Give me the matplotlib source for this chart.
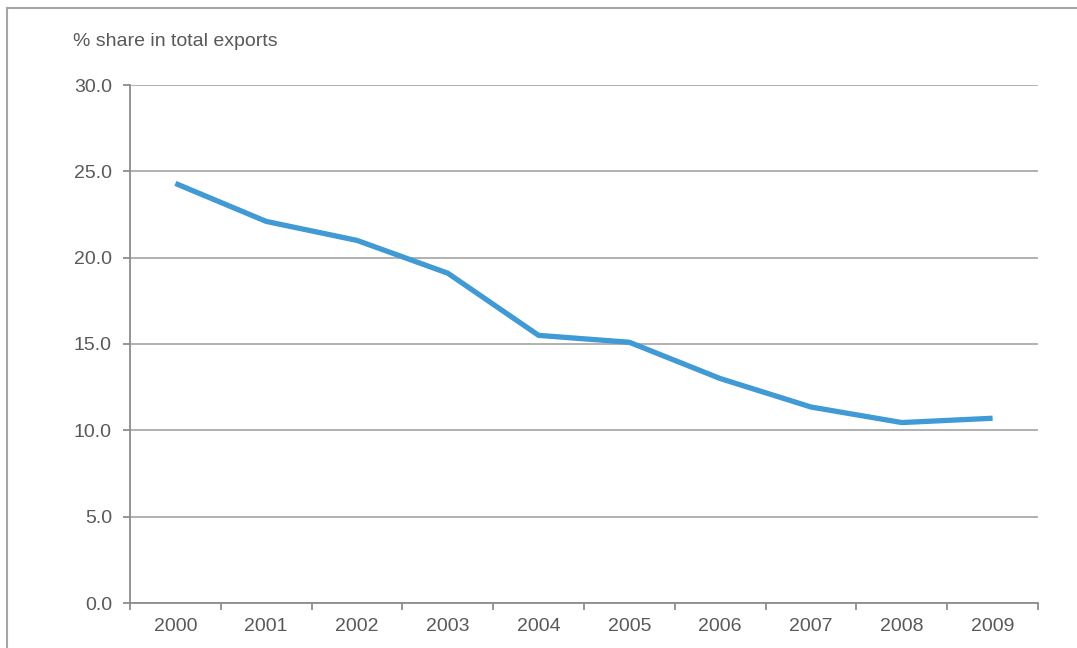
import numpy as np
import matplotlib.pyplot as plt
from matplotlib.lines import Line2D

years = ['2000', '2001', '2002', '2003', '2004', '2005', '2006', '2007', '2008', '2009']
share = [24.3, 22.1, 21.0, 19.1, 15.5, 15.1, 13.0, 11.35, 10.45, 10.7]
yticks = [0.0, 5.0, 10.0, 15.0, 20.0, 25.0, 30.0]

plt.rcParams['font.family'] = ['Liberation Sans', 'DejaVu Sans']
text_col = '#595959'
axis_col = '#8c8c8c'
grid_col = '#ababab'
fs = 14

fig = plt.figure(figsize=(10.77, 6.48), dpi=100)
ax = fig.add_axes([130 / 1077, 1 - 603 / 648, 908 / 1077, 518 / 648])

x = np.arange(len(years))
ax.plot(x, share, color='#3f9ad6', lw=3.8, solid_capstyle='butt', zorder=3)

ax.set_xlim(-0.5, len(years) - 0.5)
ax.set_ylim(0, 30)
ax.set_yticks(yticks)
ax.set_yticklabels(['%.1f' % v for v in yticks])
ax.set_xticks(x)
ax.set_xticklabels(years)
ax.set_xticks(np.arange(len(years) + 1) - 0.5, minor=True)
ax.tick_params(axis='x', which='major', length=0, pad=11, labelsize=fs, labelcolor=text_col)
ax.tick_params(axis='x', which='minor', length=5, width=1.3, color=axis_col, direction='out')
ax.tick_params(axis='y', length=5, width=1.3, color=axis_col, pad=8, labelsize=fs, labelcolor=text_col)

ax.grid(axis='y', color=grid_col, lw=1.3)
ax.set_axisbelow(True)
for s in ['top', 'right']:
    ax.spines[s].set_visible(False)
for s in ['left', 'bottom']:
    ax.spines[s].set_color(axis_col)
    ax.spines[s].set_linewidth(1.3)

fig.text(73 / 1077, 1 - 41 / 648, '% share in total exports', fontsize=fs, color=text_col, va='center')

# outer frame (only top and left edge visible)
fig.add_artist(Line2D([7 / 1077, 1], [1 - 8 / 648, 1 - 8 / 648], color='#a6a6a6', lw=1.5))
fig.add_artist(Line2D([7 / 1077, 7 / 1077], [0, 1 - 8 / 648], color='#a6a6a6', lw=1.5))

fig.savefig('out.png', dpi=100)
